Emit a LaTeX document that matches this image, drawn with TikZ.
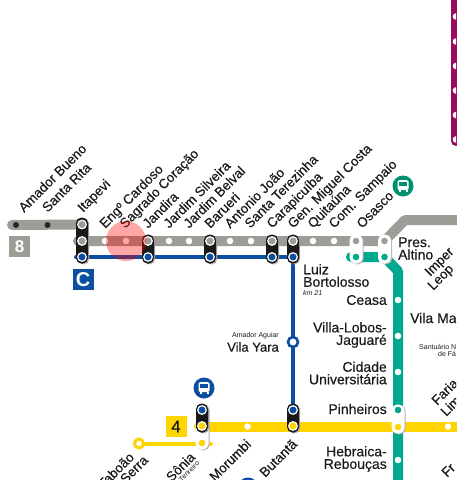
\documentclass[tikz,border=0pt]{standalone}
\usepackage{fontspec}
\setmainfont{Liberation Sans}
\newfontfamily\medfont[FakeBold=0.4]{Liberation Sans}
\usetikzlibrary{backgrounds}
\definecolor{linegray}{HTML}{9D9C97}
\definecolor{lineblue}{HTML}{0B4EA2}
\definecolor{linegreen}{HTML}{00A88E}
\definecolor{lineyellow}{HTML}{FFD400}
\definecolor{linelilac}{HTML}{9B0A5F}
\definecolor{busgreen}{HTML}{00906F}
\definecolor{inkdark}{HTML}{1A1A1A}
\tikzset{
  stopdot/.style={circle,fill=white,inner sep=0pt,minimum size=6.6pt},
  blackdot/.style={circle,fill=black!85,inner sep=0pt,minimum size=6pt},
  ringdot/.style={circle,fill=#1,draw=white,line width=1.2pt,inner sep=0pt,minimum size=8.6pt},
  flatdot/.style={circle,fill=#1,inner sep=0pt,minimum size=6.6pt},
  capblack/.style={rectangle,rounded corners=5.5pt,fill=black!90,inner sep=0pt,minimum width=12pt,
    preaction={fill=black!35,transform canvas={xshift=1.2pt,yshift=-.8pt}}},
  capwhite/.style={rectangle,rounded corners=5.5pt,fill=white,inner sep=0pt,minimum width=13pt,
    preaction={fill=black!30,transform canvas={xshift=1.2pt,yshift=-.8pt}}},
  toplabel/.style={rotate=45,anchor=base west,inner sep=0pt,text=inkdark,font=\medfont\fontsize{13.4}{13}\selectfont},
  botlabel/.style={rotate=45,anchor=base east,inner sep=0pt,text=inkdark,font=\medfont\fontsize{13.4}{13}\selectfont},
  sidelabel/.style={inner sep=0pt,text=inkdark,font=\medfont\fontsize{14}{12.5}\selectfont},
  smalllabel/.style={inner sep=0pt,text=inkdark,font=\fontsize{7}{7}\selectfont},
  linebox/.style={rectangle,fill=#1,inner sep=0pt,minimum size=21pt,font=\bfseries\fontsize{17}{17}\selectfont},
  busdisc/.style={circle,fill=#1,inner sep=0pt,minimum size=21pt},
  busicon/.pic={
    \fill[white,rounded corners=1.5pt] (-5.5,-6) rectangle (5.5,4);
    \fill[white] (-4.5,4) rectangle (-2.5,6);
    \fill[white] (2.5,4) rectangle (4.5,6);
    \fill[pic actions] (-4,-4) rectangle (4,0);
  },
  wideline/.style={#1,line width=10pt,line cap=round},
  thinline/.style={#1,line width=4pt,line cap=round}
}
\begin{document}
\begin{tikzpicture}[x=1pt,y=-1pt]
  \clip (0,0) rectangle (456,480);

  % line 8
  \node[blackdot] (amador) at (16,225) {};
  \node[blackdot] (santarita) at (47.5,225) {};
  \coordinate (grayfar) at (12,225);
  \coordinate (grayend) at (78,241);
  \foreach \x [count=\i] in {105,126,169,189,230,251,313,334}
    \node[stopdot] (dot\i) at (\x,241) {};
  \coordinate (altinobend) at (405,220);
  \coordinate (graytail) at (470,220);

  % line C
  \coordinate (blueend) at (76,257);
  \coordinate (bluecorner) at (293,257);
  \node[circle,draw=lineblue,fill=white,line width=2.6pt,inner sep=0pt,minimum size=10pt] (vilayara) at (293,342) {};

  % interchanges
  \node[capblack,minimum height=46pt] (itapevi) at (82,240.5) {};
  \node[ringdot=linegray] (itapevi8) at (82,224.5) {};
  \node[ringdot=linegray] (itapevi7) at (82,241) {};
  \node[ringdot=lineblue] (itapevic) at (82,257) {};
  \foreach \x/\nm in {148/jandira,210/barueri,272/carapicuiba,293/gemiguel}{
    \node[capblack,minimum height=29pt] (\nm) at (\x,249) {};
    \node[ringdot=linegray] (\nm a) at (\x,241) {};
    \node[ringdot=lineblue] (\nm b) at (\x,257) {};
  }

  % white interchanges
  \node[capwhite,minimum height=29pt] (sampaio) at (356,249) {};
  \node[flatdot=linegray] (sampaioa) at (356,241) {};
  \node[flatdot=linegreen] (sampaiob) at (356,257) {};
  \node[capwhite,minimum height=29pt] (altino) at (384.5,249) {};
  \node[flatdot=linegray] (altinoa) at (384.5,241) {};
  \node[flatdot=linegreen] (altinob) at (384.5,257) {};
  \node[capwhite,minimum height=29pt] (pinheiros) at (398,419) {};
  \node[flatdot=linegreen] (pinheirosa) at (398,410) {};
  \node[flatdot=lineyellow] (pinheirosb) at (398,427) {};

  % line 9
  \coordinate (greenend) at (351,257);
  \coordinate (greenbend) at (398,271);
  \coordinate (greentail) at (398,490);
  \foreach \y [count=\i] in {300,336,372,460}
    \node[stopdot] (verde\i) at (398,\y) {};

  % line 4
  \node[capwhite,minimum height=45pt] (soniawhite) at (202,427) {};
  \node[flatdot=lineyellow] (soniac) at (202,443) {};
  \node[capblack,minimum height=29pt] (sonia) at (202,418) {};
  \node[ringdot=lineblue] (soniaa) at (202,410) {};
  \node[ringdot=lineyellow] (soniab) at (202,426) {};
  \node[capblack,minimum height=29pt] (butanta) at (293,418) {};
  \node[ringdot=lineblue] (butantaa) at (293,410) {};
  \node[ringdot=lineyellow] (butantab) at (293,426) {};
  \node[stopdot] (morumbi) at (247.5,426.5) {};
  \node[stopdot] (farialima) at (448,426.5) {};
  \node[circle,draw=lineyellow,fill=white,line width=3pt,inner sep=0pt,minimum size=9pt] (taboao) at (139,443.5) {};
  \coordinate (sonialeft) at (199,426.5);
  \coordinate (yellowtail) at (470,426.5);
  \coordinate (soniatail) at (211,443.5);

  % line 5 at the edge
  \coordinate (lilactop) at (456,-10);
  \coordinate (lilacend) at (456,141);
  \foreach \y [count=\i] in {16.5,41.5,66,90.5,115,139.5}
    \node[stopdot] (lilac\i) at (456,\y) {};

  \begin{scope}[on background layer]
    \draw[wideline=linelilac] (lilactop) -- (lilacend);
    \draw[wideline=lineyellow] (sonialeft) -- (yellowtail);
    \draw[thinline=lineyellow] (taboao) -- (soniatail);
    \draw[wideline=linegreen,line join=round] (greenend) -- (altinob.center) -- (greenbend) -- (greentail);
    \draw[thinline=lineblue,line join=round] (blueend) -- (bluecorner) -- (butantaa.center);
    \draw[wideline=linegray] (grayfar) -- (itapevi8.center);
    \draw[wideline=linegray,line join=round] (grayend) -- (altinoa.center) -- (altinobend) -- (graytail);
  \end{scope}

  % line numbers
  \node[linebox=linegray,text=white] (box8) at (19.5,246.5) {8};
  \node[linebox=lineblue,text=white,font=\bfseries\fontsize{20}{20}\selectfont] (boxc) at (83,279.5) {C};
  \node[linebox=lineyellow,text=inkdark,font=\medfont\fontsize{17}{17}\selectfont] (box4) at (176,426.5) {4};

  % bus terminals
  \node[busdisc=busgreen] (busosasco) at (403,186) {};
  \pic[busgreen] at (403,186) {busicon};
  \node[busdisc=lineblue] (bussonia) at (204,388) {};
  \pic[lineblue] at (204,388) {busicon};
  \node[busdisc=lineblue] (busbutanta) at (248,488) {};

  % names over the lines
  \node[toplabel] (lblamador) at (24,213) {Amador Bueno};
  \node[toplabel] (lblsanta) at (47.5,213) {Santa Rita};
  \node[toplabel] (lblitapevi) at (83,213) {Itapevi};
  \foreach \x/\txt [count=\i] in {105/Engº Cardoso,125/Sagrado Coração,148/Jandira,169/Jardim Silveira,
      189/Jardim Belval,210/Barueri,230/Antonio João,250/Santa Terezinha,272/Carapicuíba,293/Gen. Miguel Costa,
      313/Quitaúna,334/Com. Sampaio,362/Osasco}
    \node[toplabel] (top\i) at (\x,229) {\txt};

  % names beside the lines
  \node[sidelabel,anchor=west,align=left] (lblaltino) at (398,248.5) {Pres.\\Altino};
  \node[sidelabel,anchor=west,align=left] (lblluiz) at (303,275.5) {Luiz\\Bortolosso};
  \node[smalllabel,anchor=west,font=\itshape\fontsize{7}{7}\selectfont] (lblkm) at (303,293) {km 21};
  \node[sidelabel,anchor=east,align=right] (lblceasa) at (387,300) {Ceasa};
  \node[sidelabel,anchor=east,align=right] (lblvilla) at (387,335) {Villa-Lobos-\\Jaguaré};
  \node[sidelabel,anchor=east,align=right] (lblcidade) at (387,373) {Cidade\\Universitária};
  \node[sidelabel,anchor=east,align=right] (lblpinheiros) at (387,409) {Pinheiros};
  \node[sidelabel,anchor=east,align=right] (lblhebraica) at (387,459) {Hebraica-\\Rebouças};
  \node[sidelabel,anchor=east,font=\medfont\fontsize{13}{13}\selectfont] (lblyara) at (279,347) {Vila Yara};
  \node[smalllabel,anchor=east] (lblaguiar) at (279,336) {Amador Aguiar};
  \node[sidelabel,anchor=west] (lblmadalena) at (410,318) {Vila Ma};
  \node[smalllabel,anchor=west] (lblsantuario) at (419,347) {Santuário N};
  \node[smalllabel,anchor=west] (lblfatima) at (438,353.5) {de Fá};

  % names on the right side
  \node[toplabel] (lblimper) at (430,277) {Imper};
  \node[toplabel] (lblleop) at (433,291) {Leop};
  \node[toplabel] (lblfaria) at (437,406) {Faria};
  \node[toplabel] (lbllim) at (446,417) {Lim};
  \node[toplabel] (lblfr) at (447,478) {Fr};

  % names under line 4
  \node[botlabel] (lbltaboao) at (135,458) {Taboão};
  \node[botlabel] (lblserra) at (149,461) {da Serra};
  \node[botlabel] (lblsonia) at (196,458) {Sônia};
  \node[smalllabel,rotate=45,anchor=base east] (lbltenreiro) at (200,464) {Tenreiro};
  \node[botlabel] (lblmorumbi) at (252,445) {Morumbi};
  \node[botlabel] (lblbutanta) at (298,445) {Butantã};

  % highlight
  \node[circle,fill=red,fill opacity=.35,inner sep=0pt,minimum size=40pt] (highlight) at (126,241) {};
\end{tikzpicture}
\end{document}
